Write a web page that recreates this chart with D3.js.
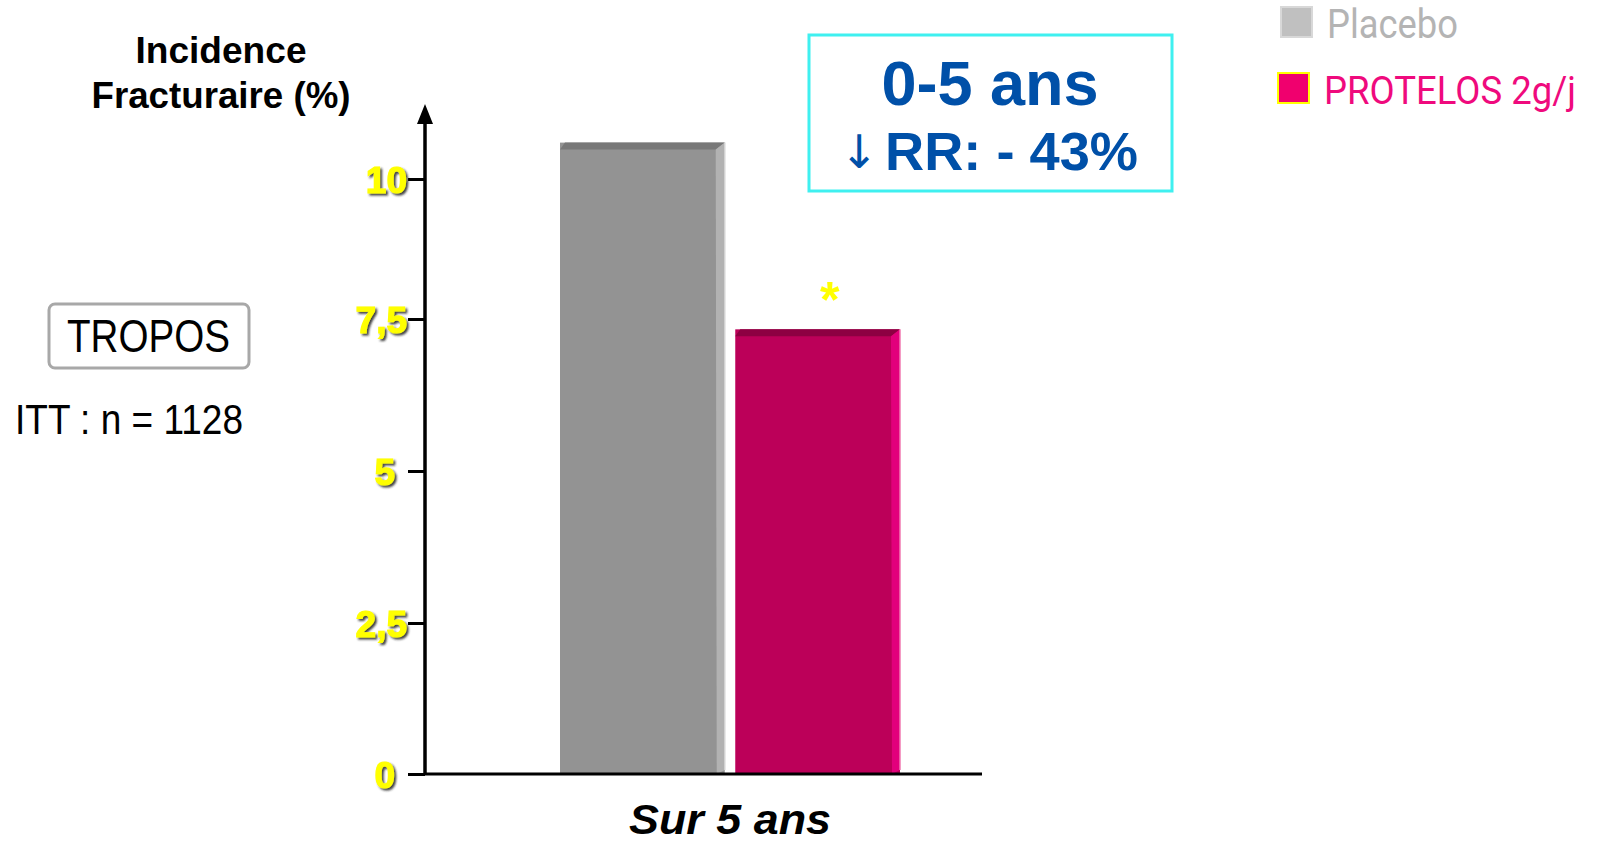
<!DOCTYPE html>
<html>
<head>
<meta charset="utf-8">
<script src="https://cdn.jsdelivr.net/npm/d3@7"></script>
<style>
  html, body { margin: 0; padding: 0; background: #fff; }
  svg { display: block; font-family: "Liberation Sans", Arial, sans-serif; }
</style>
</head>
<body>
<svg id="svg"></svg>
<script>
// chart data
const categories = ['Sur 5 ans'];
const series = ['Placebo', 'PROTELOS 2g/j'];
const values = [10.65, 7.33];
const tickValues = [0, 2.5, 5, 7.5, 10];
const tickLabels = ['0', '2,5', '5', '7,5', '10'];
// the slide's axis is not evenly spaced, so the scale is piecewise
const tickPixels = [774, 623, 471, 319, 179];

const colors = {
  'Placebo': { front: '#939393', top: '#787878', side: '#b2b2b2', edge: '#d2d2d2' },
  'PROTELOS 2g/j': { front: '#bc0059', top: '#8d0042', side: '#e2007c', edge: '#f07ab0' }
};

const width = 1600;
const height = 842;

const svg = d3.select('#svg')
  .attr('width', width)
  .attr('height', height);

// drop shadow for the yellow tick labels
const defs = svg.append('defs');
const shadow = defs.append('filter').attr('id', 'shadow')
  .attr('x', '-20%').attr('y', '-20%').attr('width', '150%').attr('height', '150%');
shadow.append('feDropShadow')
  .attr('dx', 2).attr('dy', 2).attr('stdDeviation', 1)
  .attr('flood-color', '#222').attr('flood-opacity', 0.85);

// scales
const y = d3.scaleLinear().domain(tickValues).range(tickPixels);
const axisX = 425;
const baseY = y(0);

const x0 = d3.scaleBand().domain(categories).range([560, 900]);
const x1 = d3.scaleBand().domain(series).range([0, x0.bandwidth()]).paddingInner(0.06);

// bars (flat front + bevelled top and side)
const side = 9;
const bevel = 7;
const bars = svg.append('g');
categories.forEach(cat => {
  series.forEach((s, i) => {
    const c = colors[s];
    const bx = x0(cat) + x1(s);
    const bw = x1.bandwidth();
    const top = y(values[i]);
    const g = bars.append('g');
    g.append('rect')
      .attr('x', bx).attr('y', top)
      .attr('width', bw).attr('height', baseY - top)
      .attr('fill', c.front);
    g.append('polygon')
      .attr('points', [
        [bx, top + bevel], [bx + 5, top], [bx + bw, top], [bx + bw - side, top + bevel]
      ].join(' '))
      .attr('fill', c.top);
    g.append('polygon')
      .attr('points', [
        [bx + bw - side, top + bevel], [bx + bw, top], [bx + bw, baseY - 4], [bx + bw - side + 1, baseY]
      ].join(' '))
      .attr('fill', c.side);
    g.append('line')
      .attr('x1', bx + bw).attr('x2', bx + bw)
      .attr('y1', top).attr('y2', baseY - 4)
      .attr('stroke', c.edge).attr('stroke-width', 1.5);
  });
});

// significance asterisk over PROTELOS
svg.append('text')
  .attr('x', x0(categories[0]) + x1(series[1]) + x1.bandwidth() / 2 + 12)
  .attr('y', y(values[1]) - 12)
  .attr('text-anchor', 'middle')
  .attr('font-size', 50)
  .attr('font-weight', 'bold')
  .attr('fill', '#ffff00')
  .text('*');

// y axis
const yAxis = d3.axisLeft(y)
  .tickValues(tickValues)
  .tickSize(17)
  .tickPadding(1)
  .tickFormat((d, i) => tickLabels[i]);

const gy = svg.append('g')
  .attr('transform', `translate(${axisX},0)`)
  .call(yAxis);
gy.select('.domain').remove();
gy.selectAll('.tick line').attr('stroke', '#000').attr('stroke-width', 3);
gy.selectAll('.tick text')
  .attr('fill', '#ffff00')
  .attr('stroke', '#ffff00')
  .attr('stroke-width', 1.2)
  .attr('font-size', 37)
  .attr('font-weight', 'bold')
  .attr('font-family', '"Liberation Sans", Arial, sans-serif')
  .attr('dy', '0.36em')
  .attr('dx', d => (d === 0 || d === 5) ? -12 : 0)
  .attr('filter', 'url(#shadow)');

// axis line with arrow head
svg.append('line')
  .attr('x1', axisX).attr('x2', axisX)
  .attr('y1', baseY + 1).attr('y2', 120)
  .attr('stroke', '#000').attr('stroke-width', 3.5);
svg.append('path')
  .attr('d', `M${axisX - 8},124 L${axisX},104 L${axisX + 8},124 Z`)
  .attr('fill', '#000');

// x axis baseline
svg.append('line')
  .attr('x1', axisX).attr('x2', 982)
  .attr('y1', baseY).attr('y2', baseY)
  .attr('stroke', '#000').attr('stroke-width', 3);

// category label
svg.append('text')
  .attr('x', x0(categories[0]) + x0.bandwidth() / 2)
  .attr('y', 834)
  .attr('text-anchor', 'middle')
  .attr('font-size', 43)
  .attr('font-weight', 'bold')
  .attr('font-style', 'italic')
  .attr('fill', '#000')
  .attr('textLength', 202)
  .attr('lengthAdjust', 'spacingAndGlyphs')
  .text(categories[0]);

// y title
const titleLines = [
  { text: 'Incidence', len: 171 },
  { text: 'Fracturaire (%)', len: 259 }
];
svg.append('g').selectAll('text').data(titleLines).join('text')
  .attr('x', 221)
  .attr('y', (d, i) => 63 + i * 45)
  .attr('text-anchor', 'middle')
  .attr('font-size', 36)
  .attr('font-weight', 'bold')
  .attr('fill', '#000')
  .attr('textLength', d => d.len)
  .attr('lengthAdjust', 'spacingAndGlyphs')
  .text(d => d.text);

// result box
svg.append('rect')
  .attr('x', 809).attr('y', 35)
  .attr('width', 363).attr('height', 156)
  .attr('fill', '#fff')
  .attr('stroke', '#3ff0f0').attr('stroke-width', 3);
svg.append('text')
  .attr('x', 990).attr('y', 105)
  .attr('text-anchor', 'middle')
  .attr('font-size', 63)
  .attr('font-weight', 'bold')
  .attr('fill', '#0050a8')
  .text('0-5 ans');
svg.append('text')
  .attr('x', 840).attr('y', 168)
  .attr('font-size', 46)
  .attr('fill', '#0050a8')
  .attr('font-family', '"DejaVu Sans", sans-serif')
  .attr('font-weight', 'normal')
  .text('↓');
svg.append('text')
  .attr('x', 885).attr('y', 170)
  .attr('font-size', 53)
  .attr('font-weight', 'bold')
  .attr('fill', '#0050a8')
  .attr('textLength', 253)
  .attr('lengthAdjust', 'spacingAndGlyphs')
  .text('RR: - 43%');

// TROPOS label
svg.append('rect')
  .attr('x', 49).attr('y', 304)
  .attr('width', 200).attr('height', 64)
  .attr('rx', 6)
  .attr('fill', '#fff')
  .attr('stroke', '#a8a8a8').attr('stroke-width', 3);
svg.append('text')
  .attr('x', 67).attr('y', 352)
  .attr('font-size', 46)
  .attr('fill', '#000')
  .attr('textLength', 163)
  .attr('lengthAdjust', 'spacingAndGlyphs')
  .text('TROPOS');
svg.append('text')
  .attr('x', 15).attr('y', 434)
  .attr('font-size', 42)
  .attr('fill', '#000')
  .attr('textLength', 228)
  .attr('lengthAdjust', 'spacingAndGlyphs')
  .text('ITT : n = 1128');

// legend
const legendItems = [
  { name: series[0], box: '#c0c0c0', boxStroke: '#d8d8d8', text: '#b4b4b4', x: 1281, y: 7, len: 131, size: 41 },
  { name: series[1], box: '#f0006e', boxStroke: '#ffff00', text: '#ef0a7d', x: 1278, y: 73, len: 252, size: 38 }
];
const legend = svg.append('g');
legendItems.forEach(d => {
  legend.append('rect')
    .attr('x', d.x).attr('y', d.y)
    .attr('width', 31).attr('height', 30)
    .attr('fill', d.box)
    .attr('stroke', d.boxStroke).attr('stroke-width', 2);
  legend.append('text')
    .attr('x', d.x + 46).attr('y', d.y + 31)
    .attr('font-size', d.size)
    .attr('font-family', 'Roboto, "Liberation Sans", sans-serif')
    .attr('fill', d.text)
    .attr('textLength', d.len)
    .attr('lengthAdjust', 'spacingAndGlyphs')
    .text(d.name);
});
</script>
</body>
</html>
